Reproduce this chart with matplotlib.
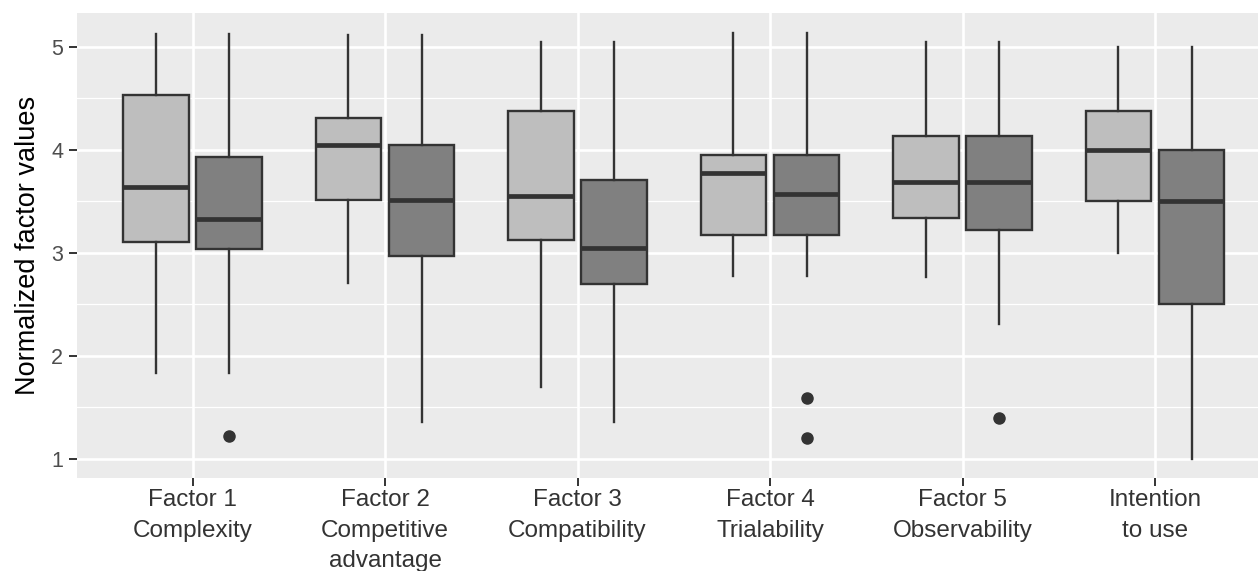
import matplotlib
matplotlib.use("Agg")
import matplotlib.pyplot as plt
import numpy as np

categories = ["Factor 1\nComplexity", "Factor 2\nCompetitive\nadvantage",
              "Factor 3\nCompatibility", "Factor 4\nTrialability",
              "Factor 5\nObservability", "Intention\nto use"]

# light group: [whislo, q1, med, q3, whishi]
light_stats = [
    [1.83, 3.11, 3.64, 4.53, 5.13],
    [2.71, 3.51, 4.05, 4.31, 5.12],
    [1.70, 3.13, 3.55, 4.38, 5.05],
    [2.78, 3.17, 3.78, 3.95, 5.14],
    [2.77, 3.34, 3.69, 4.14, 5.05],
    [3.00, 3.50, 4.00, 4.38, 5.00],
]
light_fliers = [[], [], [], [], [], []]

# dark group: [whislo, q1, med, q3, whishi]
dark_stats = [
    [1.83, 3.04, 3.33, 3.93, 5.13],
    [1.36, 2.97, 3.51, 4.05, 5.12],
    [1.36, 2.70, 3.05, 3.71, 5.05],
    [2.78, 3.17, 3.57, 3.95, 5.14],
    [2.31, 3.22, 3.69, 4.14, 5.05],
    [1.00, 2.50, 3.50, 4.00, 5.00],
]
dark_fliers = [[1.22], [], [], [1.59, 1.20], [1.40], []]

y_ticks = [1, 2, 3, 4, 5]
y_label = "Normalized factor values"

light_fill = "#BEBEBE"
dark_fill = "#808080"
edge = "#333333"
fam = ["Liberation Sans", "DejaVu Sans"]

W, H = 1258, 571
fig = plt.figure(figsize=(W / 100, H / 100), dpi=100)
ax = fig.add_axes([77 / W, (H - 478) / H, 1 - 77 / W, (478 - 13) / H])
ax.set_facecolor("#EBEBEB")
for s in ax.spines.values():
    s.set_visible(False)

x = np.arange(1, len(categories) + 1)
offset = 0.19
width = 0.34


def make_stats(stats, fliers):
    out = []
    for st, fl in zip(stats, fliers):
        out.append(dict(whislo=st[0], q1=st[1], med=st[2], q3=st[3],
                        whishi=st[4], fliers=fl))
    return out


for stats, fliers, fill, sign in [(light_stats, light_fliers, light_fill, -1),
                                  (dark_stats, dark_fliers, dark_fill, 1)]:
    ax.bxp(make_stats(stats, fliers), positions=x + sign * offset,
           widths=width, patch_artist=True, showcaps=False,
           boxprops=dict(facecolor=fill, edgecolor=edge, linewidth=1.7),
           medianprops=dict(color=edge, linewidth=3.4, solid_capstyle="butt"),
           whiskerprops=dict(color=edge, linewidth=1.7),
           flierprops=dict(marker="o", markerfacecolor=edge,
                           markeredgecolor=edge, markersize=8),
           manage_ticks=False, zorder=3)

ax.set_xlim(0.4, 6.535)
ax.set_ylim(0.815, 5.33)
ax.set_xticks(x)
ax.set_xticklabels(categories, fontsize=17.5, color="#333333", family=fam,
                   linespacing=1.5, ha="center", multialignment="center")
ax.set_yticks(y_ticks)
ax.set_yticklabels([str(v) for v in y_ticks], fontsize=15.5, color="#4D4D4D",
                   family=fam)
ax.set_yticks([1.5, 2.5, 3.5, 4.5], minor=True)
ax.tick_params(axis="both", which="major", length=6, width=1.4,
               color="#333333", pad=4)
ax.tick_params(axis="x", which="major", pad=2)
ax.tick_params(axis="y", which="minor", length=0)

ax.grid(True, which="major", color="white", linewidth=1.9, zorder=0)
ax.grid(True, which="minor", axis="y", color="white", linewidth=0.9, zorder=0)
ax.set_axisbelow(True)

ax.set_ylabel(y_label, fontsize=19.5, color="black", family=fam, labelpad=7)

fig.savefig("out.png", dpi=100)
